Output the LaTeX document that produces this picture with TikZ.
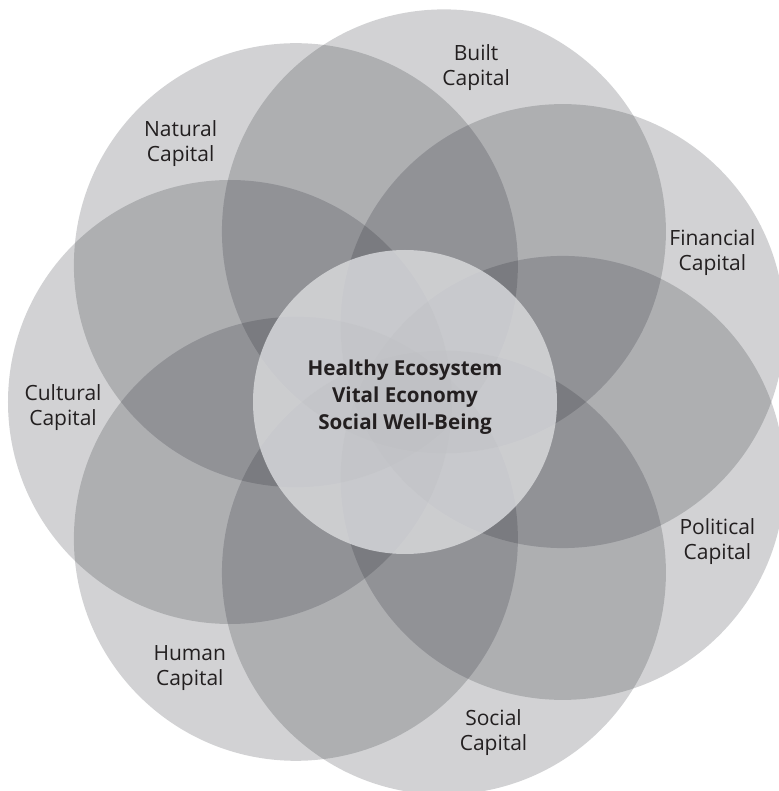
\documentclass[tikz,border=0pt]{standalone}
\usepackage{fontspec}
\setmainfont{Open Sans}
\definecolor{petalgray}{RGB}{30,32,40}
\definecolor{hubgray}{RGB}{216,217,220}
\definecolor{inkgray}{RGB}{35,31,32}
\tikzset{
  petal/.style={fill=petalgray, fill opacity=.2},
  hub/.style={fill=hubgray, fill opacity=.83},
  capital/.style={align=center, text=inkgray, inner sep=0, font=\fontsize{10.5}{12.5}\selectfont},
  hubtext/.style={align=center, text=inkgray, inner sep=0, font=\bfseries\fontsize{10.3}{13.5}\selectfont}
}
\begin{document}
\begin{tikzpicture}[x=.5pt, y=.5pt]
\useasboundingbox (-405,-389) rectangle (373,402);
% seven overlapping capitals
\foreach \kind [count=\i from 0] in {Cultural,Natural,Built,Financial,Political,Social,Human} {
 \fill[petal] (180-\i*360/7:175) circle (222);
}
% centre
\fill[hub] (0,0) circle (152);
\node[hubtext] (goal) at (0,5) {Healthy Ecosystem\\Vital Economy\\Social Well-Being};
\foreach \kind/\ang in {Cultural/181, Natural/131, Built/78, Financial/26, Political/-24, Social/-75, Human/-129} {
 \node[capital] (\kind) at (\ang:342) {\kind\\Capital};
}
\end{tikzpicture}
\end{document}
